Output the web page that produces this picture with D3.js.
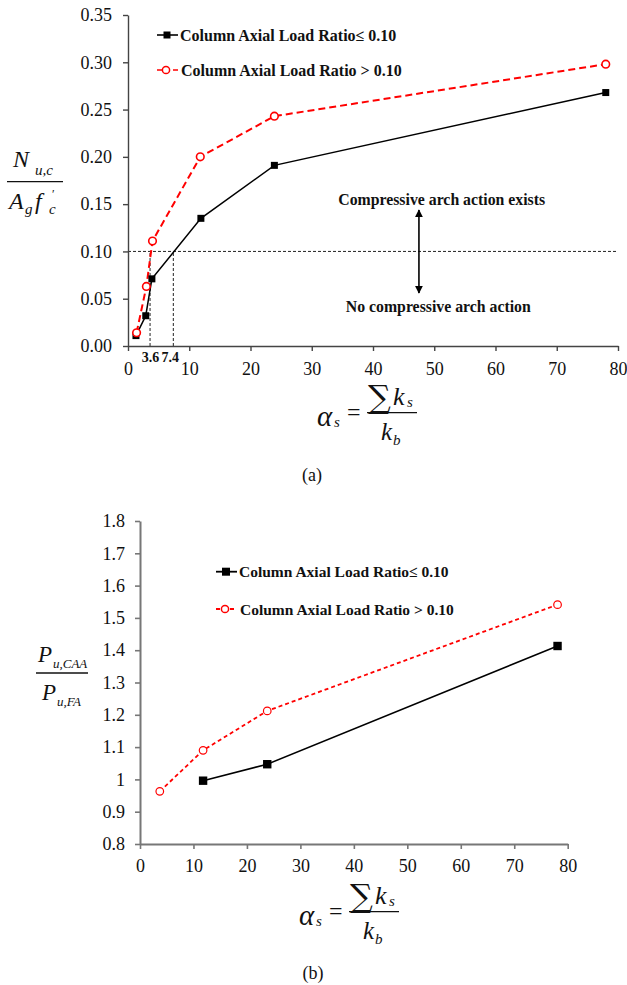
<!DOCTYPE html>
<html>
<head>
<meta charset="utf-8">
<script src="https://cdn.jsdelivr.net/npm/d3@7/dist/d3.min.js"></script>
<style>
  html, body { margin: 0; padding: 0; background: #fff; }
  svg { display: block; }
</style>
</head>
<body>
<script>
// ---- Panel (a): normalised column axial load vs. stiffness ratio ----
const topLowX  = [1.3, 2.9, 3.9, 11.9, 23.9, 78];
const topLowY  = [0.011, 0.032, 0.071, 0.135, 0.191, 0.268];
const topHighX = [1.4, 3.0, 4.0, 11.8, 23.9, 78];
const topHighY = [0.014, 0.063, 0.111, 0.200, 0.243, 0.298];
const topYTicks = [0, 0.05, 0.10, 0.15, 0.20, 0.25, 0.30, 0.35];
const xTicks = [0, 10, 20, 30, 40, 50, 60, 70, 80];
const thresholdY = 0.10;
const crossX = [3.6, 7.4];

// ---- Panel (b): capacity ratio vs. stiffness ratio ----
const botLowX  = [11.8, 23.8, 78.1];
const botLowY  = [0.996, 1.047, 1.413];
const botHighX = [3.7, 11.8, 23.8, 78.1];
const botHighY = [0.963, 1.090, 1.212, 1.541];
const botYTicks = [0.8, 0.9, 1.0, 1.1, 1.2, 1.3, 1.4, 1.5, 1.6, 1.7, 1.8];

const legendLow  = "Column Axial Load Ratio\u2264 0.10";
const legendHigh = "Column Axial Load Ratio > 0.10";

const SERIF = "Liberation Serif";
const W = 627, H = 985;
const svg = d3.select("body").append("svg").attr("width", W).attr("height", H)
  .attr("font-family", SERIF);
svg.append("rect").attr("width", W).attr("height", H).attr("fill", "#fff");

const zip = (xs, ys) => xs.map((x, i) => ({x, y: ys[i]}));

function txt(g, x, y, size, s, opts = {}) {
  const t = g.append("text").attr("x", x).attr("y", y).attr("font-size", size)
    .attr("font-family", opts.family || SERIF).attr("fill", "#111").text(s);
  if (opts.italic) t.attr("font-style", "italic");
  if (opts.bold) t.attr("font-weight", "bold");
  if (opts.anchor) t.attr("text-anchor", opts.anchor);
  return t;
}

// ================= Panel (a) =================
const xa = d3.scaleLinear().domain([0, 80]).range([128, 618]);
const ya = d3.scaleLinear().domain([0, 0.35]).range([346, 15]);
const ga = svg.append("g");

// threshold reference lines
ga.append("line")
  .attr("x1", xa(0)).attr("x2", xa(80))
  .attr("y1", ya(thresholdY)).attr("y2", ya(thresholdY))
  .attr("stroke", "#222").attr("stroke-width", 1).attr("stroke-dasharray", "3,2");
ga.selectAll("line.cross").data(crossX).join("line")
  .attr("class", "cross")
  .attr("x1", d => xa(d)).attr("x2", d => xa(d))
  .attr("y1", ya(0)).attr("y2", ya(thresholdY))
  .attr("stroke", "#222").attr("stroke-width", 1).attr("stroke-dasharray", "3,2");

// axes
const axA = ga.append("g").attr("transform", `translate(0,${ya(0)})`)
  .call(d3.axisBottom(xa).tickValues(xTicks).tickFormat(d3.format("d")).tickSizeInner(5).tickSizeOuter(0).tickPadding(11));
const ayA = ga.append("g").attr("transform", `translate(${xa(0)},0)`)
  .call(d3.axisLeft(ya).tickValues(topYTicks).tickFormat(d3.format(".2f")).tickSizeInner(5).tickSizeOuter(0).tickPadding(11));
[axA, ayA].forEach(a => {
  a.attr("font-family", SERIF);
  a.select(".domain").attr("stroke", "#444").attr("stroke-width", 1.4);
  a.selectAll(".tick line").attr("stroke", "#444").attr("stroke-width", 1.4);
  a.selectAll(".tick text").attr("font-size", 18).attr("font-family", SERIF).attr("fill", "#111");
});

// crossing labels
ga.selectAll("text.cross").data(crossX).join("text")
  .attr("class", "cross")
  .attr("x", (d, i) => xa(d) + (i === 0 ? 0.5 : -3))
  .attr("y", 361.5)
  .attr("font-family", SERIF).attr("fill", "#111")
  .attr("text-anchor", "middle").attr("font-size", 14).attr("font-weight", "bold")
  .text(d => d3.format(".1f")(d));

// series lines
const lineA = d3.line().x(d => xa(d.x)).y(d => ya(d.y));
ga.append("path").datum(zip(topHighX, topHighY))
  .attr("d", lineA).attr("fill", "none").attr("stroke", "#ff0000")
  .attr("stroke-width", 2).attr("stroke-dasharray", "7,4");
ga.append("path").datum(zip(topLowX, topLowY))
  .attr("d", lineA).attr("fill", "none").attr("stroke", "#000").attr("stroke-width", 1.5);

ga.selectAll("rect.low").data(zip(topLowX, topLowY)).join("rect")
  .attr("class", "low")
  .attr("x", d => xa(d.x) - 3.5).attr("y", d => ya(d.y) - 3.5)
  .attr("width", 7).attr("height", 7).attr("fill", "#000");
ga.selectAll("circle.high").data(zip(topHighX, topHighY)).join("circle")
  .attr("class", "high")
  .attr("cx", d => xa(d.x)).attr("cy", d => ya(d.y)).attr("r", 3.8)
  .attr("fill", "#fff").attr("stroke", "#ff0000").attr("stroke-width", 1.6);

// legend
function legend(g, x0, y0, y1, sq, rad, dash, lineW, fs) {
  g.append("line").attr("x1", x0).attr("x2", x0 + 21).attr("y1", y0).attr("y2", y0)
    .attr("stroke", "#000").attr("stroke-width", lineW);
  g.append("rect").attr("x", x0 + 10 - sq / 2).attr("y", y0 - sq / 2)
    .attr("width", sq).attr("height", sq).attr("fill", "#000");
  txt(g, x0 + 23, y0 + 5.5, fs, legendLow, {bold: true});
  g.append("line").attr("x1", x0).attr("x2", x0 + 21).attr("y1", y1).attr("y2", y1)
    .attr("stroke", "#ff0000").attr("stroke-width", lineW).attr("stroke-dasharray", dash);
  g.append("circle").attr("cx", x0 + 9).attr("cy", y1).attr("r", rad)
    .attr("fill", "#fff").attr("stroke", "#ff0000").attr("stroke-width", 1.5);
  txt(g, x0 + 24, y1 + 5.5, fs, legendHigh, {bold: true});
}
legend(ga, 157, 35, 70, 7, 3.6, "5,3", 1.6, 16);

// annotation: arch action region
const arrowX = xa(47.5);
const defs = svg.append("defs");
defs.append("marker").attr("id", "arrowHead")
  .attr("viewBox", "0 0 10 10").attr("refX", 9).attr("refY", 5)
  .attr("markerWidth", 5).attr("markerHeight", 5).attr("orient", "auto-start-reverse")
  .append("path").attr("d", "M0,0 L10,5 L0,10 z").attr("fill", "#000");
ga.append("line")
  .attr("x1", arrowX).attr("x2", arrowX).attr("y1", 210).attr("y2", 293)
  .attr("stroke", "#000").attr("stroke-width", 1.6)
  .attr("marker-start", "url(#arrowHead)").attr("marker-end", "url(#arrowHead)");
txt(ga, 441.7, 205, 15.8, "Compressive arch action exists", {bold: true, anchor: "middle"});
txt(ga, 438.3, 311.5, 15.8, "No compressive arch action", {bold: true, anchor: "middle"});

// y label (a): N_u,c / (A_g f'_c)
function yLabelA(g) {
  txt(g, 13, 167, 24, "N", {italic: true});
  txt(g, 35, 175, 15, "u,c", {italic: true});
  g.append("line").attr("x1", 7).attr("x2", 63).attr("y1", 181.7).attr("y2", 181.7)
    .attr("stroke", "#111").attr("stroke-width", 1.3);
  txt(g, 9, 209, 24, "A", {italic: true});
  txt(g, 25, 214, 15, "g", {italic: true});
  txt(g, 35, 209, 24, "f", {italic: true});
  txt(g, 49, 214, 15, "c", {italic: true});
  txt(g, 52, 198, 12, "\u2032");
}
yLabelA(ga);

// x label: alpha_s = sum k_s / k_b
function xLabel(g, x0, yLine) {
  txt(g, x0, yLine + 13, 29, "\u03b1", {italic: true});
  txt(g, x0 + 17, yLine + 14, 15, "s", {italic: true});
  txt(g, x0 + 30, yLine + 7, 24, "=");
  g.append("line").attr("x1", x0 + 50).attr("x2", x0 + 100).attr("y1", yLine).attr("y2", yLine)
    .attr("stroke", "#111").attr("stroke-width", 1.3);
  txt(g, x0 + 51, yLine - 5, 32, "\u2211", {family: "DejaVu Serif"});
  txt(g, x0 + 76, yLine - 8, 26, "k", {italic: true});
  txt(g, x0 + 90, yLine - 6, 15, "s", {italic: true});
  txt(g, x0 + 64, yLine + 27, 25, "k", {italic: true});
  txt(g, x0 + 76, yLine + 32, 15, "b", {italic: true});
}
xLabel(ga, 317, 412.7);

txt(svg, 312, 481, 18, "(a)", {anchor: "middle"});

// ================= Panel (b) =================
const xb = d3.scaleLinear().domain([0, 80]).range([140, 567.7]);
const yb = d3.scaleLinear().domain([0.8, 1.8]).range([844, 521]);
const gb = svg.append("g");

const axB = gb.append("g").attr("transform", `translate(0,${yb(0.8)})`)
  .call(d3.axisBottom(xb).tickValues(xTicks).tickFormat(d3.format("d")).tickSizeInner(5).tickSizeOuter(0).tickPadding(10));
const ayB = gb.append("g").attr("transform", `translate(${xb(0)},0)`)
  .call(d3.axisLeft(yb).tickValues(botYTicks).tickFormat(d => (Math.abs(d - 1) < 1e-9 ? "1" : d3.format(".1f")(d)))
    .tickSizeInner(5).tickSizeOuter(0).tickPadding(10));
[axB, ayB].forEach(a => {
  a.attr("font-family", SERIF);
  a.select(".domain").attr("stroke", "#777").attr("stroke-width", 2);
  a.selectAll(".tick line").attr("stroke", "#777").attr("stroke-width", 1.6);
  a.selectAll(".tick text").attr("font-size", 18).attr("font-family", SERIF).attr("fill", "#111");
});

const lineB = d3.line().x(d => xb(d.x)).y(d => yb(d.y));
gb.append("path").datum(zip(botHighX, botHighY))
  .attr("d", lineB).attr("fill", "none").attr("stroke", "#ff0000")
  .attr("stroke-width", 1.8).attr("stroke-dasharray", "4,3");
gb.append("path").datum(zip(botLowX, botLowY))
  .attr("d", lineB).attr("fill", "none").attr("stroke", "#000").attr("stroke-width", 1.5);
gb.selectAll("rect.low").data(zip(botLowX, botLowY)).join("rect")
  .attr("class", "low")
  .attr("x", d => xb(d.x) - 4.2).attr("y", d => yb(d.y) - 4.2)
  .attr("width", 8.4).attr("height", 8.4).attr("fill", "#000");
gb.selectAll("circle.high").data(zip(botHighX, botHighY)).join("circle")
  .attr("class", "high")
  .attr("cx", d => xb(d.x)).attr("cy", d => yb(d.y)).attr("r", 3.8)
  .attr("fill", "#fff").attr("stroke", "#ff0000").attr("stroke-width", 1.2);

legend(gb, 216, 571.7, 609, 8, 3.6, "4,3", 1.8, 15.5);

// y label (b): P_u,CAA / P_u,FA
function yLabelB(g) {
  txt(g, 38, 662, 23, "P", {italic: true});
  txt(g, 53, 668, 13, "u,CAA", {italic: true});
  g.append("line").attr("x1", 36).attr("x2", 88).attr("y1", 673).attr("y2", 673)
    .attr("stroke", "#111").attr("stroke-width", 1.3);
  txt(g, 42, 700, 23, "P", {italic: true});
  txt(g, 57, 706, 13, "u,FA", {italic: true});
}
yLabelB(gb);

xLabel(gb, 299, 911.7);

txt(svg, 313, 979, 18, "(b)", {anchor: "middle"});
</script>
</body>
</html>
